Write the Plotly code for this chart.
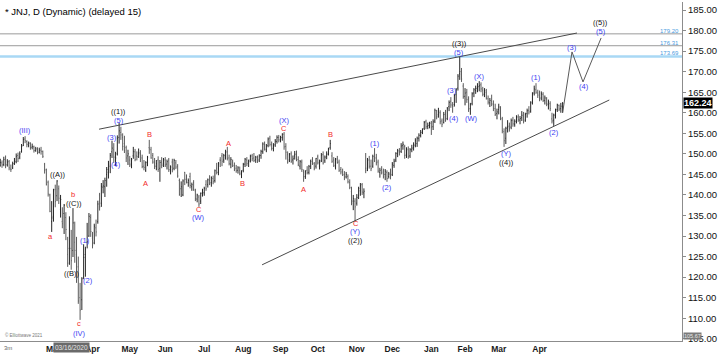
import plotly.graph_objects as go
import pandas as pd

TITLE = "* JNJ, D (Dynamic) (delayed 15)"
START_DATE = "2020-01-16"
HOLIDAYS = ["2020-01-20", "2020-02-17", "2020-04-10", "2020-05-25", "2020-07-03",
            "2020-09-07", "2020-11-26", "2020-12-25", "2021-01-01", "2021-01-18",
            "2021-02-15", "2021-04-02"]

# Daily OHLC, grouped by month
opens = [
    147.1, 147.8, 147.4, 148.8, 147.3, 148.1, 146.3, 146.6, 147.6, 148.1, 149.6,
    149.2, 150.5, 152.0, 153.6, 153.0, 152.0, 152.6, 151.6, 151.7, 150.8, 151.2, 150.4, 150.9, 150.6, 147.5, 146.2, 143.1, 140.0, 133.5,
    134.8, 141.3, 139.8, 141.5, 136.5, 133.5, 135.5, 134.5, 125.5, 127.0, 127.0, 126.5, 128.5, 125.5, 122.5, 115.0, 114.5, 120.0, 125.5, 128.5, 130.0, 134.5,
    129.5, 128.3, 132.0, 133.5, 140.0, 138.0, 141.9, 142.0, 145.0, 145.5, 147.0, 150.5, 151.0, 148.5, 150.0, 154.0, 155.2, 154.0, 152.5, 151.5, 149.5,
    148.5, 147.2, 149.5, 150.5, 149.5, 150.0, 150.0, 149.0, 147.0, 146.0, 147.8, 151.5, 151.0, 149.6, 148.0, 147.0, 148.5, 146.5, 148.0, 147.5,
    148.5, 147.5, 148.5, 146.0, 148.0, 146.5, 147.8, 147.0, 143.5, 141.5, 140.0, 145.5, 143.8, 143.0, 144.5, 142.0, 143.0, 141.0, 139.0, 139.5, 138.5, 140.5,
    140.5, 142.5, 142.5, 143.5, 143.0, 144.0, 143.5, 146.5, 145.5, 148.5, 149.5, 148.5, 149.3, 150.5, 149.0, 147.5, 148.0, 147.2, 146.5, 146.0, 146.0, 145.0,
    146.0, 147.5, 148.5, 147.8, 148.5, 149.5, 149.0, 148.6, 149.0, 148.5, 149.6, 150.5, 152.3, 151.0, 152.0, 153.8, 152.2, 151.4, 152.2, 153.0, 154.0,
    153.4, 154.0, 154.8, 151.8, 149.8, 148.5, 150.0, 148.5, 149.5, 150.0, 148.6, 147.0, 148.0, 145.5, 144.5, 146.0, 145.5, 147.0, 148.6, 147.6, 147.0,
    149.3, 147.0, 148.3, 149.8, 148.3, 149.4, 150.0, 151.5, 149.5, 148.5, 146.8, 148.8, 148.0, 146.2, 145.6, 145.0, 144.4, 144.5, 143.0, 140.8, 138.5, 138.5,
    138.0, 139.8, 141.0, 142.5, 140.5, 146.5, 146.5, 148.5, 147.0, 147.0, 150.0, 149.0, 148.0, 145.5, 146.2, 145.8, 145.0, 145.5, 144.5, 145.0,
    145.0, 147.2, 148.5, 150.0, 150.5, 150.6, 152.0, 151.8, 149.8, 151.0, 149.5, 151.0, 151.5, 152.0, 152.5, 153.8, 154.5, 155.3, 156.2, 157.8, 156.6, 157.0,
    157.5, 156.6, 158.0, 160.5, 159.5, 160.0, 158.0, 157.6, 159.5, 158.6, 161.5, 162.8, 161.8, 162.0, 164.4, 166.0, 169.5, 169.4, 166.5,
    164.0, 165.0, 163.4, 161.0, 162.2, 164.8, 165.4, 166.0, 166.4, 166.8, 165.5, 164.5, 165.0, 163.4, 162.4, 162.8, 162.0, 161.0, 159.8,
    160.8, 161.0, 158.5, 155.4, 153.8, 156.4, 156.8, 156.5, 158.2, 157.2, 158.0, 159.0, 158.2, 158.8, 159.0, 158.2, 159.8, 160.6, 160.4, 162.6, 164.8, 165.6, 164.8,
    164.8, 163.6, 164.5, 163.0, 163.4, 162.0, 162.2, 158.5, 158.2, 159.5, 160.8, 161.8, 161.0, 161.4,
]
highs = [
    148.8, 148.4, 149.3, 149.6, 148.7, 148.5, 147.4, 148.1, 149.0, 150.1, 150.3,
    150.6, 152.4, 154.1, 154.3, 153.3, 153.0, 152.8, 152.5, 152.0, 151.7, 151.6, 151.5, 151.7, 150.8, 147.8, 146.4, 143.5, 140.3, 138.5,
    141.5, 142.5, 143.6, 142.3, 140.0, 137.0, 137.8, 135.8, 129.8, 134.8, 131.5, 136.8, 133.5, 129.8, 125.0, 118.6, 120.0, 128.0, 127.4, 133.2, 135.6, 135.3,
    131.0, 133.0, 134.0, 138.6, 140.5, 142.9, 143.6, 144.2, 146.8, 148.3, 150.2, 153.2, 152.6, 150.5, 154.5, 157.5, 156.6, 155.0, 154.4, 152.0, 151.0,
    149.5, 149.0, 151.7, 151.2, 150.6, 151.3, 150.9, 149.8, 148.5, 148.2, 149.5, 153.4, 151.7, 150.2, 149.0, 148.5, 149.4, 148.5, 149.2, 149.0,
    149.2, 148.6, 149.0, 147.2, 148.8, 148.8, 148.5, 147.5, 144.0, 143.3, 143.8, 145.6, 145.0, 144.0, 145.4, 143.0, 143.6, 141.5, 140.3, 140.0, 140.6, 141.5,
    142.0, 143.6, 144.0, 144.8, 144.5, 144.7, 146.2, 147.8, 148.0, 149.2, 150.2, 150.0, 151.0, 151.7, 149.8, 149.2, 148.6, 147.9, 147.3, 147.0, 146.9, 146.0,
    147.8, 149.0, 149.2, 148.6, 149.8, 150.0, 150.2, 149.5, 149.6, 149.9, 151.0, 152.8, 153.0, 152.4, 154.0, 154.4, 153.0, 152.6, 153.6, 154.5, 154.6,
    154.4, 155.0, 155.3, 152.6, 150.6, 150.2, 150.6, 149.6, 150.7, 150.8, 149.4, 148.5, 148.6, 146.2, 146.0, 147.0, 147.3, 148.6, 149.2, 148.0, 149.0,
    149.8, 148.6, 150.2, 150.6, 149.6, 150.6, 151.5, 153.4, 150.4, 149.2, 149.0, 149.5, 148.6, 146.8, 146.4, 145.8, 145.6, 145.0, 143.8, 142.0, 140.0, 139.2,
    140.2, 142.0, 142.9, 142.9, 141.6, 150.2, 149.0, 149.5, 148.6, 149.8, 151.4, 150.0, 148.6, 146.6, 147.0, 146.4, 146.3, 146.0, 145.6, 146.4,
    148.0, 148.8, 150.4, 151.2, 151.4, 152.6, 153.0, 152.2, 151.6, 151.8, 151.4, 152.2, 152.8, 153.8, 154.2, 155.0, 155.8, 156.2, 158.0, 158.3, 157.6, 157.8,
    158.0, 158.4, 161.0, 160.7, 161.2, 160.6, 158.6, 160.2, 160.7, 161.4, 163.0, 163.8, 162.6, 164.6, 166.0, 169.4, 173.6, 170.9, 167.2,
    166.0, 165.8, 164.0, 162.4, 165.0, 166.0, 166.6, 167.2, 167.7, 167.4, 166.3, 166.0, 165.8, 164.2, 163.6, 164.4, 163.0, 162.2, 161.0,
    162.2, 161.6, 159.0, 156.2, 156.6, 158.2, 157.6, 158.6, 159.0, 158.4, 159.4, 159.6, 159.2, 160.4, 160.2, 160.0, 161.0, 161.6, 162.8, 165.0, 166.6, 167.2, 165.6,
    165.4, 165.2, 165.0, 164.2, 163.8, 163.2, 162.8, 160.0, 159.8, 161.0, 162.2, 162.0, 162.4, 162.6,
]
lows = [
    146.9, 146.6, 147.0, 146.5, 146.9, 146.0, 145.6, 146.3, 147.3, 147.7, 148.0,
    148.7, 150.3, 151.9, 152.6, 151.6, 151.6, 151.0, 151.1, 150.3, 150.5, 149.9, 150.1, 149.8, 149.0, 145.2, 142.3, 139.6, 135.8, 131.0,
    133.5, 137.0, 138.5, 137.8, 134.5, 131.9, 130.5, 129.0, 122.5, 123.0, 121.8, 124.9, 123.5, 118.6, 113.5, 109.6, 112.0, 119.5, 120.1, 127.0, 129.8, 129.8,
    127.0, 128.0, 129.9, 133.0, 136.2, 137.1, 140.4, 139.5, 142.0, 144.0, 145.3, 149.0, 147.8, 147.0, 149.6, 152.5, 153.4, 150.8, 150.2, 148.0, 147.3,
    146.8, 146.5, 148.8, 148.2, 148.4, 149.0, 148.0, 146.5, 146.0, 145.6, 147.0, 150.0, 148.8, 147.6, 146.3, 146.0, 145.6, 143.2, 146.5, 146.8,
    146.8, 146.2, 145.6, 145.0, 145.5, 146.0, 146.3, 144.2, 139.8, 139.5, 139.7, 142.4, 142.8, 142.0, 141.6, 141.0, 141.0, 138.5, 138.2, 137.1, 137.8, 139.6,
    139.8, 141.0, 141.8, 142.4, 142.0, 142.6, 143.0, 145.0, 144.8, 146.8, 147.0, 147.8, 148.6, 148.4, 147.2, 146.5, 146.8, 145.8, 145.4, 145.2, 144.8, 144.1,
    145.5, 146.8, 147.0, 146.8, 147.9, 148.2, 148.0, 147.8, 147.8, 148.0, 148.8, 150.0, 150.8, 150.4, 151.6, 151.8, 150.8, 150.6, 151.7, 152.5, 152.8,
    152.8, 153.2, 151.0, 148.6, 147.6, 148.0, 147.8, 147.4, 148.6, 148.2, 147.0, 146.2, 145.6, 143.2, 143.9, 145.0, 145.0, 146.3, 147.3, 146.0, 146.4,
    147.4, 146.2, 148.0, 147.4, 147.8, 148.7, 149.6, 151.0, 147.8, 146.8, 146.2, 147.6, 145.6, 145.0, 144.6, 143.6, 144.0, 142.8, 141.4, 137.5, 136.3, 133.5,
    137.4, 139.0, 139.8, 140.0, 139.2, 145.3, 145.8, 146.4, 145.8, 146.6, 148.0, 147.2, 145.4, 144.2, 145.0, 144.0, 143.6, 143.2, 144.0, 143.8,
    144.6, 146.6, 148.0, 149.2, 149.6, 150.2, 151.0, 148.8, 149.0, 148.8, 149.0, 150.4, 150.8, 151.6, 151.7, 153.0, 154.0, 154.8, 155.8, 156.0, 156.0, 156.2,
    154.6, 155.8, 157.5, 158.4, 158.8, 157.2, 156.5, 157.4, 157.8, 158.2, 160.4, 161.2, 160.0, 161.5, 162.4, 165.4, 168.0, 167.5, 163.4,
    161.8, 162.4, 160.2, 159.5, 161.8, 163.8, 164.6, 165.0, 165.2, 165.0, 164.0, 163.8, 163.2, 162.0, 161.4, 161.6, 160.4, 159.2, 158.4,
    159.6, 158.2, 155.0, 151.7, 152.4, 155.2, 155.4, 156.0, 156.6, 156.6, 157.4, 157.8, 157.2, 158.0, 157.4, 157.8, 158.8, 159.6, 160.0, 162.0, 164.2, 164.6, 163.6,
    162.8, 163.0, 162.6, 162.0, 161.6, 160.8, 160.4, 157.4, 156.8, 158.6, 160.2, 160.4, 160.0, 160.0,
]
closes = [
    147.9, 147.3, 148.6, 147.4, 148.0, 146.6, 146.2, 147.6, 148.3, 149.4, 148.9,
    150.0, 151.8, 153.5, 153.2, 152.3, 152.6, 151.5, 151.8, 150.8, 151.2, 150.4, 150.9, 150.6, 149.4, 146.0, 142.6, 140.2, 136.0, 134.4,
    141.0, 138.4, 143.4, 139.2, 138.9, 133.0, 137.5, 131.6, 123.4, 134.2, 124.0, 133.2, 126.5, 121.5, 114.2, 112.0, 119.6, 124.8, 126.8, 128.6, 134.8, 131.1,
    127.8, 132.4, 131.0, 137.8, 137.1, 142.1, 142.2, 143.5, 146.2, 147.5, 149.6, 151.4, 149.2, 149.0, 153.8, 155.6, 154.6, 151.8, 150.8, 149.0, 150.0,
    147.5, 148.6, 150.6, 148.6, 149.3, 150.3, 148.6, 146.9, 146.7, 147.9, 149.2, 151.2, 149.0, 148.0, 147.0, 147.6, 146.2, 147.9, 147.2, 148.7,
    147.3, 148.1, 146.2, 146.8, 146.2, 148.4, 146.8, 144.6, 140.1, 142.0, 143.4, 143.8, 143.2, 143.5, 142.3, 142.5, 141.3, 139.1, 140.0, 137.8, 140.4, 140.6,
    141.6, 141.5, 143.7, 142.7, 144.3, 143.2, 145.9, 145.5, 147.6, 148.4, 148.2, 149.6, 150.4, 148.9, 147.6, 148.6, 147.1, 146.2, 145.9, 146.6, 145.3, 145.8,
    147.4, 148.7, 147.6, 148.2, 149.4, 148.8, 148.4, 149.2, 148.1, 149.5, 150.6, 152.4, 151.2, 151.9, 153.6, 152.3, 151.3, 152.0, 153.1, 154.0, 153.4,
    153.9, 154.8, 151.7, 150.4, 148.0, 149.8, 148.2, 148.8, 149.9, 148.6, 147.3, 148.1, 146.2, 144.4, 145.8, 145.4, 146.9, 148.2, 147.8, 146.5, 148.9,
    147.8, 148.0, 149.7, 147.8, 149.2, 149.9, 151.2, 152.5, 148.2, 147.2, 148.6, 147.9, 146.0, 145.6, 144.9, 144.3, 145.0, 143.2, 141.8, 138.0, 139.1, 137.1,
    139.4, 141.6, 142.2, 140.7, 140.9, 146.0, 148.5, 147.0, 146.4, 149.4, 149.0, 147.8, 145.8, 146.0, 145.4, 144.5, 145.8, 144.0, 145.1, 144.7,
    147.5, 148.2, 150.1, 150.8, 150.4, 151.9, 152.3, 149.6, 151.2, 149.3, 151.0, 151.4, 152.2, 153.2, 153.8, 154.5, 155.2, 156.0, 157.6, 156.6, 156.9, 157.4,
    156.5, 157.8, 160.6, 159.0, 160.4, 157.8, 157.2, 159.6, 158.3, 161.0, 162.5, 161.9, 161.6, 164.2, 165.6, 168.9, 170.0, 168.2, 163.9,
    164.8, 163.2, 160.9, 162.0, 164.6, 165.6, 165.9, 166.2, 166.6, 165.8, 164.5, 165.4, 163.6, 162.6, 163.0, 162.2, 161.0, 159.6, 160.2,
    161.4, 158.6, 155.6, 153.2, 156.2, 156.6, 156.1, 158.1, 157.3, 157.9, 158.9, 158.3, 158.6, 159.4, 157.9, 159.6, 160.5, 160.2, 162.4, 164.6, 165.8, 165.0, 164.3,
    163.4, 164.6, 163.0, 163.6, 162.2, 162.6, 161.0, 158.0, 159.4, 160.6, 161.9, 160.9, 161.6, 162.24,
]

last_price = 162.24
low_tag_value = 105.67

# Horizontal price levels
levels = [179.20, 176.31, 173.69]
level_colors = ["#9a9a9a", "#9a9a9a", "#a9d8f5"]
level_widths = [1, 1, 2.5]

# Trend lines (bar index, price)
upper_trend_idx = [55.7, 325.1]
upper_trend_price = [156.0, 179.4]
lower_trend_idx = [147.6, 343.3]
lower_trend_price = [123.0, 163.1]

# Projected path (3)-(4)-(5)
proj_idx = [317, 322.3, 328.5, 338.7]
proj_price = [160.0, 174.8, 167.5, 178.2]

# Elliott wave labels: text, bar index, price, colour group
wave_text = ["(III)", "((A))", "a", "b", "((C))", "((B))", "c", "(IV)", "(1)", "(2)",
             "(3)", "(4)", "(5)", "((1))", "A", "B", "C", "(W)", "A", "B",
             "(X)", "C", "A", "B", "C", "(Y)", "((2))", "(1)", "(2)", "(3)",
             "(4)", "(5)", "((3))", "(W)", "(X)", "(Y)", "((4))", "(1)", "(2)", "(3)",
             "(4)", "(5)", "((5))"]
wave_idx = [14.0, 32.0, 28.6, 41.0, 41.6, 39.9, 44.6, 44.6, 47.8, 49.5,
            63.0, 65.2, 66.9, 66.9, 81.6, 84.4, 112.0, 112.0, 128.4, 136.3,
            160.0, 160.0, 170.7, 186.4, 200.5, 200.5, 200.0, 211.2, 218.0, 254.6,
            255.8, 258.6, 258.6, 265.4, 270.4, 285.1, 285.1, 302.0, 312.2, 322.3,
            329.1, 338.6, 338.6]
wave_price = [155.6, 144.9, 129.8, 140.0, 137.8, 121.0, 108.8, 106.3, 128.8, 119.3,
              154.1, 147.3, 158.0, 160.3, 142.9, 154.8, 136.4, 134.4, 152.6, 142.7,
              158.2, 156.2, 141.4, 154.6, 133.0, 131.0, 128.9, 152.4, 141.9, 165.3,
              158.7, 174.6, 176.8, 158.5, 168.9, 150.2, 147.8, 168.5, 155.1, 175.8,
              166.3, 179.7, 181.9]
wave_kind = ["b", "k", "r", "r", "k", "k", "r", "b", "b", "b",
             "b", "b", "b", "k", "r", "r", "r", "b", "r", "r",
             "b", "r", "r", "r", "r", "b", "k", "b", "b", "b",
             "b", "b", "k", "b", "b", "b", "k", "b", "b", "b",
             "b", "b", "k"]
KIND_COLORS = {"b": "#3d3df2", "r": "#f22a2a", "k": "#111111"}

n = min(len(opens), len(highs), len(lows), len(closes))
idx = list(range(n))
dates = pd.bdate_range(start=START_DATE, periods=n, freq="C", holidays=HOLIDAYS)
tickvals, ticktext = [], []
for i in range(1, n):
    if dates[i].month != dates[i - 1].month and dates[i] >= pd.Timestamp("2020-03-01"):
        tickvals.append(i)
        ticktext.append(dates[i].strftime("%b"))

FONT = "Arial, 'Liberation Sans', sans-serif"

fig = go.Figure()
fig.add_trace(go.Ohlc(
    x=idx, open=opens[:n], high=highs[:n], low=lows[:n], close=closes[:n],
    increasing_line_color="#262626", decreasing_line_color="#5c5c5c",
    line_width=1, tickwidth=0.35, showlegend=False, hoverinfo="skip"))

fig.add_trace(go.Scatter(x=upper_trend_idx, y=upper_trend_price, mode="lines",
                         line=dict(color="#4a4a4a", width=1), showlegend=False, hoverinfo="skip"))
fig.add_trace(go.Scatter(x=lower_trend_idx, y=lower_trend_price, mode="lines",
                         line=dict(color="#4a4a4a", width=1), showlegend=False, hoverinfo="skip"))
fig.add_trace(go.Scatter(x=proj_idx, y=proj_price, mode="lines",
                         line=dict(color="#5a5a5a", width=1), showlegend=False, hoverinfo="skip"))

shapes = []
for lv, c, w in zip(levels, level_colors, level_widths):
    shapes.append(dict(type="line", xref="paper", yref="y", x0=0, x1=1, y0=lv, y1=lv,
                       line=dict(color=c, width=w), layer="below"))

annotations = []
for t, xi, yp, k in zip(wave_text, wave_idx, wave_price, wave_kind):
    annotations.append(dict(x=xi, y=yp, xref="x", yref="y", text=t, showarrow=False,
                            font=dict(family=FONT, size=7.5, color=KIND_COLORS[k])))
for lv in levels:
    annotations.append(dict(x=1, y=lv, xref="paper", yref="y", text=f"{lv:.2f}",
                            showarrow=False, xanchor="right", yanchor="bottom",
                            xshift=-1, yshift=-2,
                            font=dict(family=FONT, size=6, color="#4a9be0")))
annotations.append(dict(x=0, y=1, xref="paper", yref="paper", text=TITLE, showarrow=False,
                        xanchor="left", yanchor="middle", xshift=3, yshift=-9,
                        font=dict(family=FONT, size=9.5, color="#000000")))
annotations.append(dict(x=1, y=last_price, xref="paper", yref="y", text=f"{last_price:.2f}",
                        showarrow=False, xanchor="left", yanchor="middle", xshift=1, yshift=1,
                        bgcolor="#000000", borderpad=0,
                        font=dict(family=FONT, size=9, color="#ffffff", weight="bold")))
annotations.append(dict(x=1, y=low_tag_value, xref="paper", yref="y", text=f"{low_tag_value:.2f}",
                        showarrow=False, xanchor="left", yanchor="middle", xshift=1,
                        bgcolor="#7a7a7a", borderpad=0,
                        font=dict(family=FONT, size=5.5, color="#e8e8e8")))
annotations.append(dict(x=39.9, y=0, xref="x", yref="paper", text="03/16/2020", showarrow=False,
                        xanchor="center", yanchor="top", yshift=-1, bgcolor="#6a6a6a", borderpad=1,
                        font=dict(family=FONT, size=6.5, color="#e6e6e6")))
annotations.append(dict(x=0, y=0, xref="paper", yref="paper", text="© Elliottwave 2021", showarrow=False,
                        xanchor="left", yanchor="bottom", xshift=3, yshift=1,
                        font=dict(family=FONT, size=4.5, color="#777777")))
annotations.append(dict(x=0, y=0, xref="paper", yref="paper", text="3m", showarrow=False,
                        xanchor="left", yanchor="top", xshift=2, yshift=-2,
                        font=dict(family=FONT, size=6, color="#666666")))

fig.update_layout(
    width=720, height=354,
    margin=dict(l=0, r=38, t=2, b=13),
    paper_bgcolor="#ffffff", plot_bgcolor="#ffffff",
    showlegend=False,
    shapes=shapes, annotations=annotations,
    xaxis=dict(range=[-0.14, 384.3], tickvals=tickvals, ticktext=ticktext,
               showgrid=False, zeroline=False, showline=True, linecolor="#8c8c8c",
               ticks="", tickfont=dict(family=FONT, size=8.5, color="#1a1a1a", weight="bold"),
               rangeslider=dict(visible=False), fixedrange=True),
    yaxis=dict(range=[104.46, 186.95], side="right", tick0=105, dtick=5, tickformat=".2f",
               showgrid=False, zeroline=False, showline=True, linecolor="#8c8c8c",
               ticks="outside", ticklen=3, tickcolor="#8c8c8c",
               tickfont=dict(family=FONT, size=9.5, color="#111111"), fixedrange=True),
)

fig.write_html("out.html")
